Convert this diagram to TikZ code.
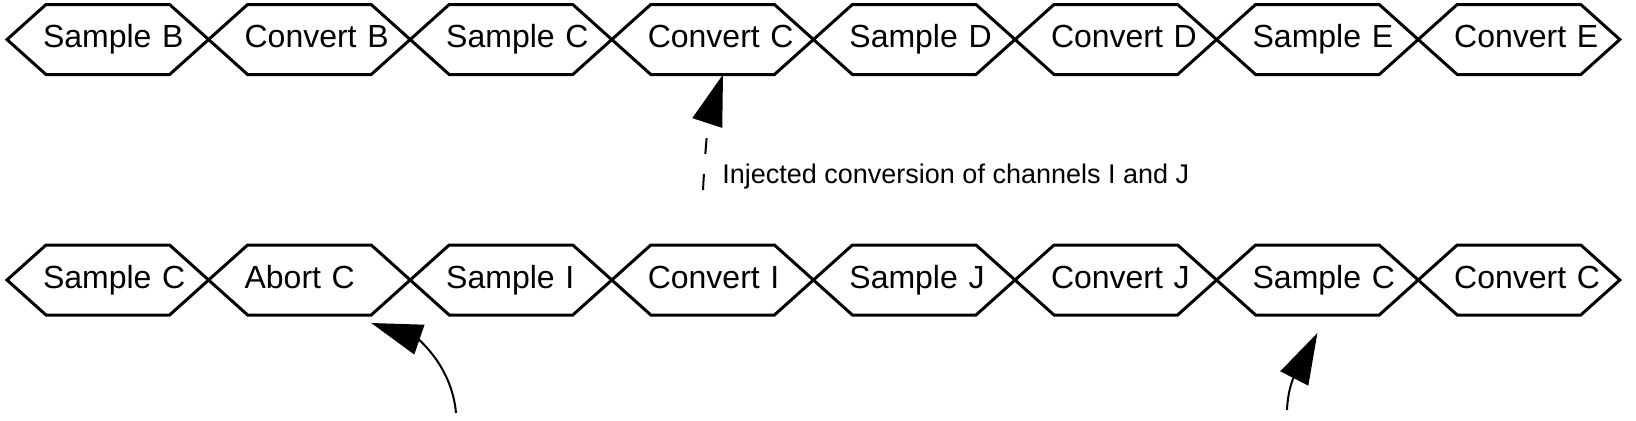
\documentclass[tikz,border=0pt]{standalone}
\usepackage{fontspec}
\setmainfont{Liberation Sans}
\usetikzlibrary{arrows.meta,positioning,calc}
\tikzset{
  phase/.style={rectangle, inner xsep=0pt, inner ysep=0pt, outer sep=0pt,
    minimum height=35pt, text width=61.8pt, align=left,
    text height=11.5pt, text depth=3.4pt,
    font=\fontsize{16}{19}\selectfont,
    execute at begin node={\hspace*{-1.5pt}\hbox\bgroup},
    execute at end node={\egroup}},
  hexline/.style={line width=1.5pt, line join=miter},
  note/.style={font=\fontsize{13.5}{16}\selectfont, inner sep=0pt},
  arr/.style={-{Triangle[length=25.5pt,width=15.5pt]}, line width=1pt},
}
\begin{document}
\begin{tikzpicture}[x=0.5pt, y=0.5pt, node distance=85.25pt and 39pt]
  \useasboundingbox (0,0) rectangle (1636,420);
  % top row: regular schedule
  \node[phase] (tSB) at (107.8,380.5) {Sample B};
  \node[phase, right=of tSB] (tCB) {Convert B};
  \node[phase, right=of tCB] (tSC) {Sample C};
  \node[phase, right=of tSC] (tCC) {Convert C};
  \node[phase, right=of tCC] (tSD) {Sample D};
  \node[phase, right=of tSD] (tCD) {Convert D};
  \node[phase, right=of tCD] (tSE) {Sample E};
  \node[phase, right=of tSE] (tCE) {Convert E};
  % bottom row: schedule with injected channels
  \node[phase, below=of tSB] (bSC) {Sample C};
  \node[phase, right=of bSC] (bAC) {Abort C};
  \node[phase, right=of bAC] (bSI) {Sample I};
  \node[phase, right=of bSI] (bCI) {Convert I};
  \node[phase, right=of bCI] (bSJ) {Sample J};
  \node[phase, right=of bSJ] (bCJ) {Convert J};
  \node[phase, right=of bCJ] (bSCb) {Sample C};
  \node[phase, right=of bSCb] (bCC) {Convert C};
  % hexagon outlines round every phase
  \foreach \n in {tSB,tCB,tSC,tCC,tSD,tCD,tSE,tCE,bSC,bAC,bSI,bCI,bSJ,bCJ,bSCb,bCC}
    \draw[hexline] (\n.north west) -- (\n.north east) -- ([xshift=19.5pt]\n.east)
      -- (\n.south east) -- (\n.south west) -- ([xshift=-19.5pt]\n.west) -- cycle;
  % annotation and arrows
  \coordinate (srcInj) at (703,230);
  \coordinate (srcA) at (456,7);
  \coordinate (srcB) at (1287,10);
  \node[note, anchor=base west] (inj) at (722,237) {Injected conversion of channels I and J};
  \draw[arr, dash pattern=on 8pt off 10pt] (srcInj) to[out=87, in=-108] ([xshift=5.2pt]tCC.south);
  \draw[arr] (srcA) to[out=95, in=-19] ([yshift=-4pt]bAC.south east);
  \draw[arr] (srcB) to[out=88, in=-117] ([yshift=-9pt]bSCb.south);
\end{tikzpicture}
\end{document}
